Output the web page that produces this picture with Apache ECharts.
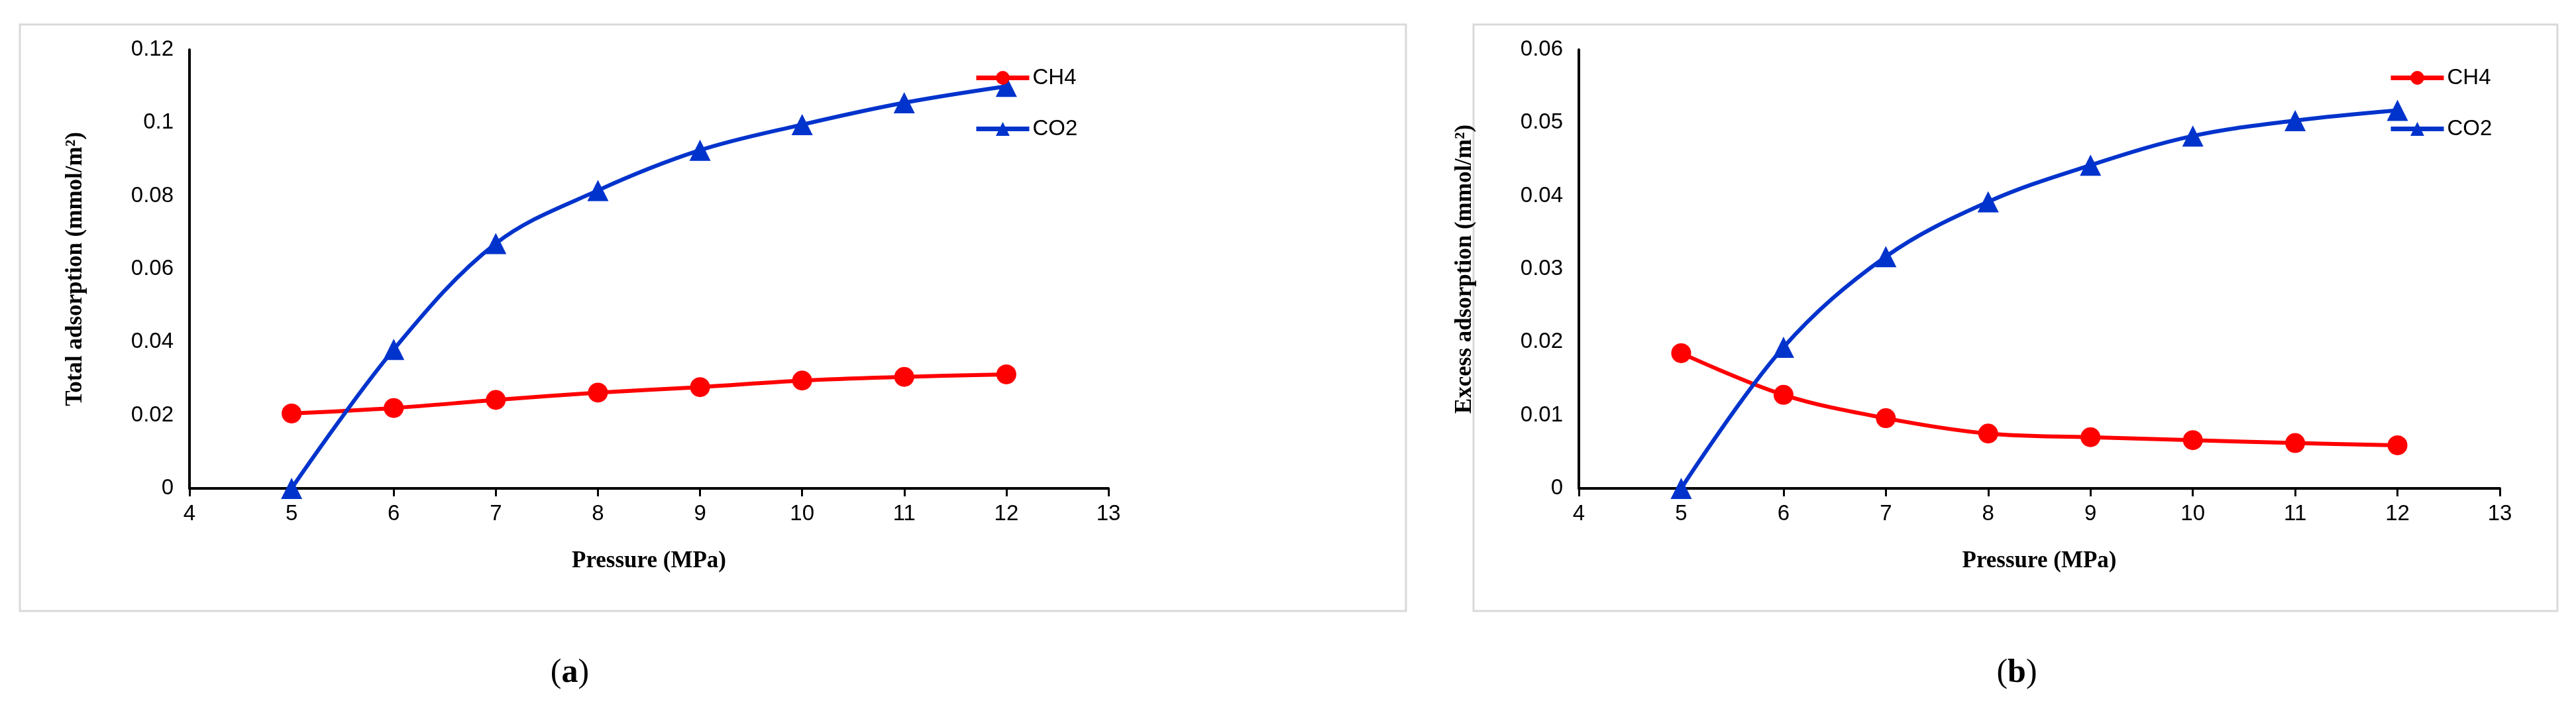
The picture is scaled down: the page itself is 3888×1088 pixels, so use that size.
<!DOCTYPE html>
<html lang="en">
<head>
<meta charset="UTF-8">
<title>Adsorption</title>
<script src="https://cdn.jsdelivr.net/npm/echarts@6/dist/echarts.min.js"></script>
<style>
  * { margin: 0; padding: 0; }
  body { background: #fff; }
  #chart { width: 3888px; height: 1088px; }
</style>
</head>
<body>
<div id="chart"></div>
<script>
  var pressure = [5, 6, 7, 8, 9, 10, 11, 12];
  var totalCH4 = [0.0205, 0.022, 0.0242, 0.0262, 0.0277, 0.0295, 0.0305, 0.0312];
  var totalCO2 = [0, 0.038, 0.067, 0.0815, 0.0925, 0.0995, 0.1055, 0.110];
  var excessCH4 = [0.0185, 0.0128, 0.0096, 0.0075, 0.0070, 0.0066, 0.0062, 0.0059];
  var excessCO2 = [0, 0.0193, 0.0317, 0.0392, 0.0442, 0.0482, 0.0503, 0.0517];

  function pairs(ys) {
    return pressure.map(function (x, i) { return [x, ys[i]]; });
  }

  var chart = echarts.init(document.getElementById('chart'));
  var tickFont = { fontFamily: 'Liberation Sans Narrow, Liberation Sans, Arial', fontSize: 33, color: '#000' };
  var axisLine = { show: true, lineStyle: { color: '#000', width: 4 } };

  function xAxis(idx) {
    return {
      type: 'value', gridIndex: idx, min: 4, max: 13, interval: 1,
      axisLine: axisLine, axisTick: { show: true, length: 12, lineStyle: { color: '#000', width: 3 } },
      axisLabel: Object.assign({ margin: 22 }, tickFont), splitLine: { show: false },
      name: 'Pressure (MPa)', nameLocation: 'middle', nameGap: 92,
      nameTextStyle: { fontFamily: 'Liberation Serif', fontWeight: 'bold', fontSize: 35, color: '#000' }
    };
  }
  function yAxis(idx, max, interval, name) {
    return {
      type: 'value', gridIndex: idx, min: 0, max: max, interval: interval,
      axisLine: axisLine, axisTick: { show: false },
      axisLabel: Object.assign({ margin: 24 }, tickFont), splitLine: { show: false },
      name: name, nameLocation: 'middle', nameGap: 155, nameRotate: 90,
      nameTextStyle: { fontFamily: 'Liberation Serif', fontWeight: 'bold', fontSize: 35, color: '#000' }
    };
  }
  function line(name, data, idx, color, symbol) {
    return {
      name: name, type: 'line', xAxisIndex: idx, yAxisIndex: idx, data: pairs(data),
      smooth: 0.35, symbol: symbol, symbolSize: symbol === 'circle' ? 30 : 32,
      lineStyle: { color: color, width: 6 }, itemStyle: { color: color }
    };
  }
  var legendCommon = {
    orient: 'vertical', itemWidth: 80, itemHeight: 26, itemGap: 44,
    lineStyle: { width: 7 },
    textStyle: { fontFamily: 'Liberation Sans Narrow, Liberation Sans, Arial', fontSize: 33, color: '#000' }
  };

  chart.setOption({
    animation: false,
    grid: [
      { left: 286, top: 75, width: 1387, height: 662 },
      { left: 2383, top: 75, width: 1390, height: 662 }
    ],
    xAxis: [xAxis(0), xAxis(1)],
    yAxis: [
      yAxis(0, 0.12, 0.02, 'Total adsorption (mmol/m²)'),
      yAxis(1, 0.06, 0.01, 'Excess adsorption (mmol/m²)')
    ],
    legend: [
      Object.assign({ left: 1465, top: 96, data: ['CH4', 'CO2'] }, legendCommon),
      Object.assign({ left: 3600, top: 96, data: ['CH4 ', 'CO2 '] }, legendCommon)
    ],
    series: [
      line('CH4', totalCH4, 0, '#ff0000', 'circle'),
      line('CO2', totalCO2, 0, '#0033cc', 'triangle'),
      line('CH4 ', excessCH4, 1, '#ff0000', 'circle'),
      line('CO2 ', excessCO2, 1, '#0033cc', 'triangle')
    ],
    graphic: [
      { type: 'rect', shape: { x: 30, y: 37, width: 2092, height: 885 }, style: { fill: 'none', stroke: '#d9d9d9', lineWidth: 3 }, z: -1 },
      { type: 'rect', shape: { x: 2224, y: 37, width: 1636, height: 885 }, style: { fill: 'none', stroke: '#d9d9d9', lineWidth: 3 }, z: -1 },
      { type: 'text', x: 860, y: 1016, style: { text: '({b|a})', rich: { b: { fontWeight: 'bold', fontSize: 50, fontFamily: 'Liberation Serif' } }, fontSize: 50, fontFamily: 'Liberation Serif', fill: '#000', align: 'center', verticalAlign: 'middle' } },
      { type: 'text', x: 3044, y: 1016, style: { text: '({b|b})', rich: { b: { fontWeight: 'bold', fontSize: 50, fontFamily: 'Liberation Serif' } }, fontSize: 50, fontFamily: 'Liberation Serif', fill: '#000', align: 'center', verticalAlign: 'middle' } }
    ]
  });
</script>
</body>
</html>
